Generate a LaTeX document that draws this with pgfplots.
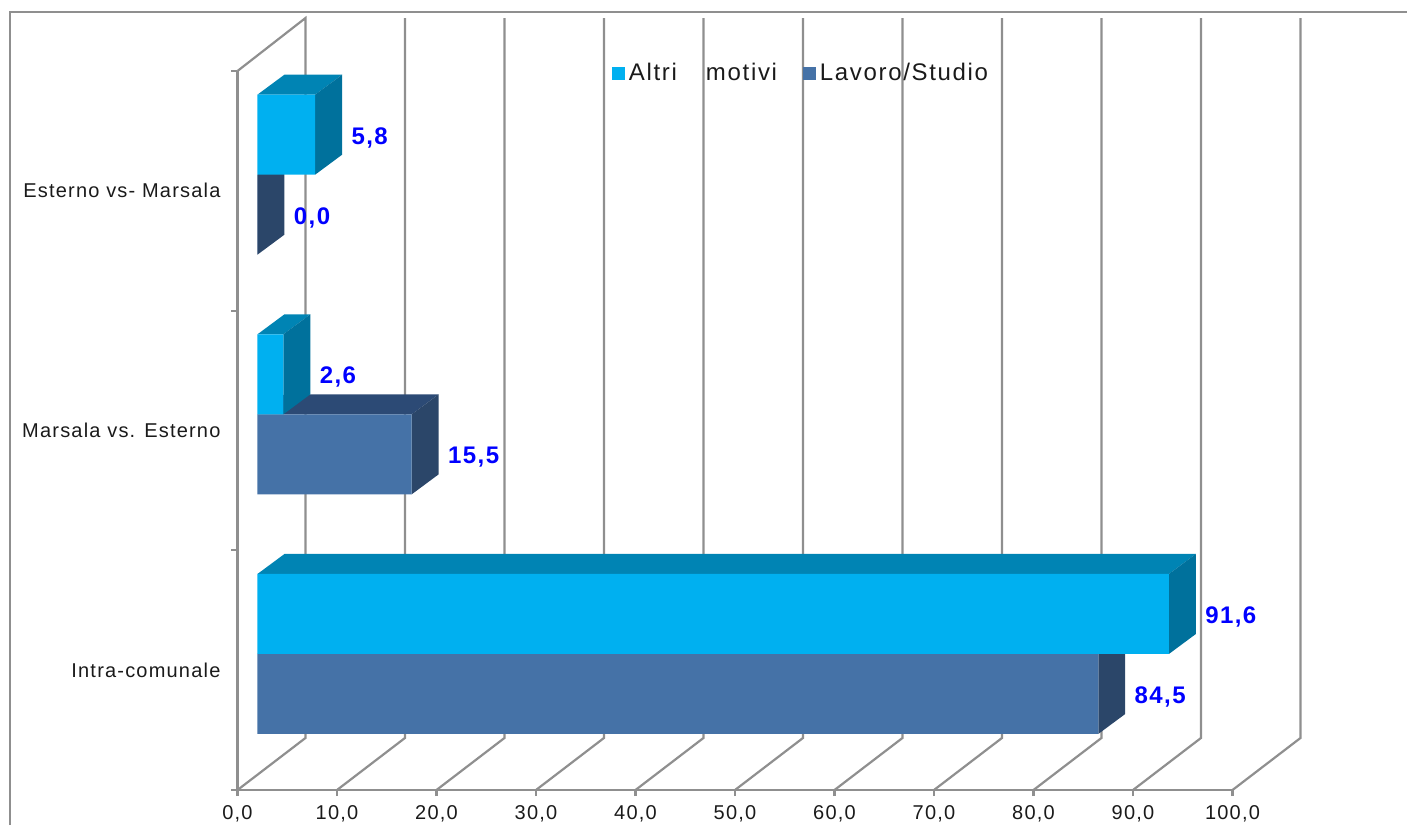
\documentclass[border=0pt]{standalone}
\usepackage{fontspec}
\setmainfont{Liberation Sans}[LetterSpace=6]
\newfontfamily\legfont{Liberation Sans}[LetterSpace=7]
\newfontfamily\valfont{Liberation Sans Bold}[LetterSpace=6]
\usepackage{pgfplots}
\pgfplotsset{compat=1.18}
\definecolor{gridc}{HTML}{8F8F8F}
\definecolor{txt}{HTML}{1A1A1A}
\definecolor{altri}{HTML}{00B0F0}
\definecolor{altritop}{HTML}{0084B4}
\definecolor{altriside}{HTML}{00719C}
\definecolor{lav}{HTML}{4572A7}
\definecolor{lavtop}{HTML}{2C4A75}
\definecolor{lavside}{HTML}{2B4669}
\pgfplotsset{
  face/.style={forget plot,draw=none,fill=#1,shift={(10pt,8.1pt)}},
  wall/.style={forget plot,gridc,line width=1.1pt},
  front/.style={xbar,bar width=40pt,draw=none,fill=#1,shift={(10pt,8.1pt)},
    nodes near coords,
    nodes near coords align={anchor=west},
    nodes near coords style={font=\valfont\fontsize{12}{14}\selectfont,text=blue,inner sep=0pt,
      xshift=18pt,
      /pgf/number format/fixed,/pgf/number format/fixed zerofill,/pgf/number format/precision=1,
      /pgf/number format/use comma,/pgf/number format/assume math mode=true}},
}
\begin{document}
\begin{tikzpicture}
\useasboundingbox (-118.75pt,-17.5pt) rectangle (584.75pt,395pt);
\draw[gridc,line width=1.1pt] (-113.75pt,-17.5pt) -- (-113.75pt,389pt) -- (584.75pt,389pt);
\begin{axis}[
  at={(0,0)},anchor=south west,
  scale only axis,
  width=497.5pt,height=359.5pt,
  xmin=0,xmax=100,ymin=0,ymax=3,
  clip=false,
  axis x line=bottom,axis y line=left,
  axis line style={-,gridc,line width=1.1pt},
  tick align=outside,
  major tick length=3pt,
  tick style={gridc,line width=1.1pt},
  xtick={0,10,...,100},
  ytick={0,1,2,3},
  yticklabels={,,,},
  extra y ticks={0.5,1.5,2.5},
  extra y tick labels={Intra-comunale,Marsala vs. Esterno,Esterno vs- Marsala},
  extra y tick style={major tick length=0pt,yticklabel style={xshift=-5pt,text=txt}},
  xticklabel style={text=txt,yshift=-1pt,
    /pgf/number format/.cd,fixed,fixed zerofill,precision=1,use comma,assume math mode=true},
  legend columns=2,
  legend cell align=left,
  legend image code/.code={\fill[#1] (0pt,-3pt) rectangle (6pt,3pt);},
  legend style={at={(0.3765,0.9972)},anchor=west,draw=none,fill=none,inner sep=0pt,outer sep=0pt,
    font=\legfont\fontsize{12}{14}\selectfont,text=txt,
    /tikz/every even column/.append style={column sep=11pt}},
]
% back wall and floor
\addplot[wall] coordinates {(0,3)(6.83,3.221)(6.83,0.217)(0,0)};
\addplot[wall] coordinates {(10,0)(16.83,0.217)(16.83,3.221)};
\addplot[wall] coordinates {(20,0)(26.83,0.217)(26.83,3.221)};
\addplot[wall] coordinates {(30,0)(36.83,0.217)(36.83,3.221)};
\addplot[wall] coordinates {(40,0)(46.83,0.217)(46.83,3.221)};
\addplot[wall] coordinates {(50,0)(56.83,0.217)(56.83,3.221)};
\addplot[wall] coordinates {(60,0)(66.83,0.217)(66.83,3.221)};
\addplot[wall] coordinates {(70,0)(76.83,0.217)(76.83,3.221)};
\addplot[wall] coordinates {(80,0)(86.83,0.217)(86.83,3.221)};
\addplot[wall] coordinates {(90,0)(96.83,0.217)(96.83,3.221)};
\addplot[wall] coordinates {(100,0)(106.83,0.217)(106.83,3.221)};

% Lavoro/Studio
\addplot[face=lavtop] coordinates {(0,0.5)(84.5,0.5)(87.21,0.5834)(2.71,0.5834)} --cycle;
\addplot[face=lavside] coordinates {(84.5,0.1662)(87.21,0.2496)(87.21,0.5834)(84.5,0.5)} --cycle;
\addplot[face=lavtop] coordinates {(0,1.5)(15.5,1.5)(18.21,1.5834)(2.71,1.5834)} --cycle;
\addplot[face=lavside] coordinates {(15.5,1.1662)(18.21,1.2496)(18.21,1.5834)(15.5,1.5)} --cycle;
\addplot[face=lavside] coordinates {(0,2.1662)(2.71,2.2496)(2.71,2.5834)(0,2.5)} --cycle;
\addplot[front=lav,forget plot,bar shift=-20pt,nodes near coords style={yshift=-21.5pt}] coordinates {(84.5,0.5)(15.5,1.5)(0,2.5)};

% Altri motivi
\addplot[face=altritop] coordinates {(0,0.8338)(91.6,0.8338)(94.31,0.9172)(2.71,0.9172)} --cycle;
\addplot[face=altriside] coordinates {(91.6,0.5)(94.31,0.5834)(94.31,0.9172)(91.6,0.8338)} --cycle;
\addplot[face=altritop] coordinates {(0,1.8338)(2.6,1.8338)(5.31,1.9172)(2.71,1.9172)} --cycle;
\addplot[face=altriside] coordinates {(2.6,1.5)(5.31,1.5834)(5.31,1.9172)(2.6,1.8338)} --cycle;
\addplot[face=altritop] coordinates {(0,2.8338)(5.8,2.8338)(8.51,2.9172)(2.71,2.9172)} --cycle;
\addplot[face=altriside] coordinates {(5.8,2.5)(8.51,2.5834)(8.51,2.9172)(5.8,2.8338)} --cycle;
\addplot[front=altri,forget plot,bar shift=20pt,nodes near coords style={yshift=18.5pt}] coordinates {(91.6,0.5)(2.6,1.5)(5.8,2.5)};

\addlegendimage{altri}
\addlegendentry{Altri\hspace{14.5pt}motivi}
\addlegendimage{lav}
\addlegendentry{Lavoro/Studio}
\end{axis}
\end{tikzpicture}
\end{document}
